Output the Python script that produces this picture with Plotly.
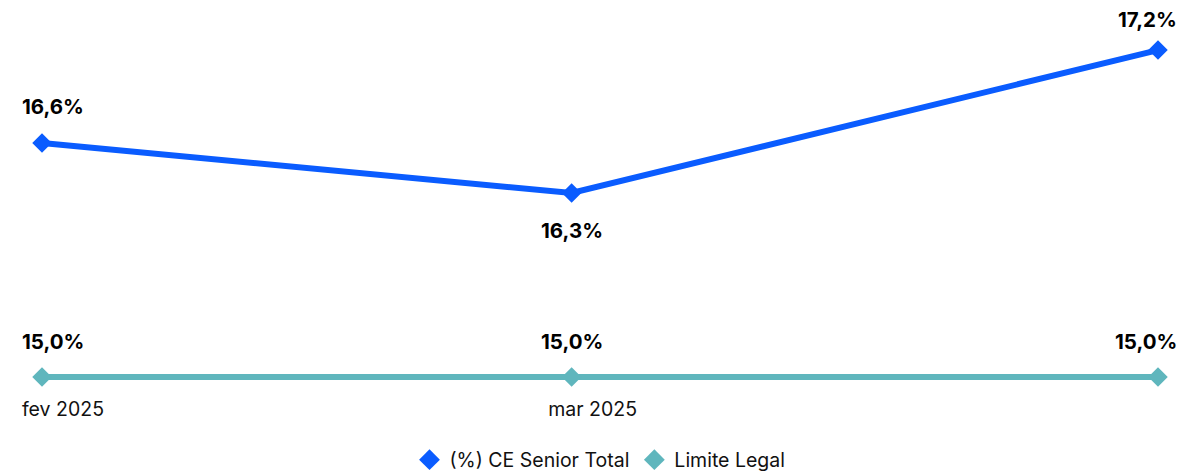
import plotly.graph_objects as go
from datetime import datetime, timedelta

dates = ["2025-02-01", "2025-03-01", "2025-04-01"]
tick_vals = ["2025-02-01", "2025-03-01"]
tick_text = ["fev 2025", "mar 2025"]
ce_senior = [16.598, 16.257, 17.233]
limite_legal = [15.0, 15.0, 15.0]
series_names = ["(%) CE Senior Total", "Limite Legal"]
colors = ["#0A5CFF", "#5FB6BD"]

FONT = "Inter"
FIG_H = 490

def fmt(v):
    return f"{v:.1f}".replace(".", ",") + "%"

fig = go.Figure()
for vals, name, col in zip([ce_senior, limite_legal], series_names, colors):
    fig.add_trace(go.Scatter(
        x=dates, y=vals, mode="lines+markers", name=name,
        line=dict(color=col, width=6),
        marker=dict(symbol="diamond", size=15, color=col),
        showlegend=False, cliponaxis=False, hoverinfo="skip"))
    fig.add_trace(go.Scatter(
        x=[None], y=[None], mode="markers", name=name,
        marker=dict(symbol="diamond", size=17, color=col), showlegend=True))

# data labels (vertical offsets in px per point)
label_specs = [
    (ce_senior, [37, -38, 31]),
    (limite_legal, [35, 35, 35]),
]
anchors = ["left", "center", "right"]
xshifts = [-22, 0, 21]
for vals, offs in label_specs:
    for i, (d, v) in enumerate(zip(dates, vals)):
        fig.add_annotation(
            x=d, y=v, text=fmt(v), showarrow=False,
            xanchor=anchors[i], xshift=xshifts[i],
            yanchor="middle", yshift=offs[i],
            font=dict(family=FONT, size=20.5, color="#000000", weight="bold"))

d0 = datetime(2025, 2, 1) - timedelta(days=1.057)
d1 = datetime(2025, 4, 1) + timedelta(days=1.057)

fig.update_layout(
    width=1184, height=FIG_H,
    margin=dict(l=22, r=6, t=10, b=FIG_H - 395),
    paper_bgcolor="white", plot_bgcolor="white",
    font=dict(family=FONT, size=19.5, color="#111111"),
    xaxis=dict(type="date", range=[d0, d1], tickvals=tick_vals, ticktext=tick_text,
               showgrid=False, zeroline=False, showline=False, ticks="",
               ticklabelshift=21, tickfont=dict(size=19.5, color="#111111")),
    yaxis=dict(range=[14.877, 17.507], showgrid=False, zeroline=False,
               showline=False, showticklabels=False, ticks=""),
    legend=dict(orientation="h", x=0.5, xanchor="center", y=-65 / 385, yanchor="middle",
                font=dict(size=19.5, color="#111111"), itemwidth=30,
                tracegroupgap=0),
)

fig.write_html("out.html", config={"displayModeBar": False},
               post_script="document.body.style.margin='0';document.body.style.overflow='hidden';")
